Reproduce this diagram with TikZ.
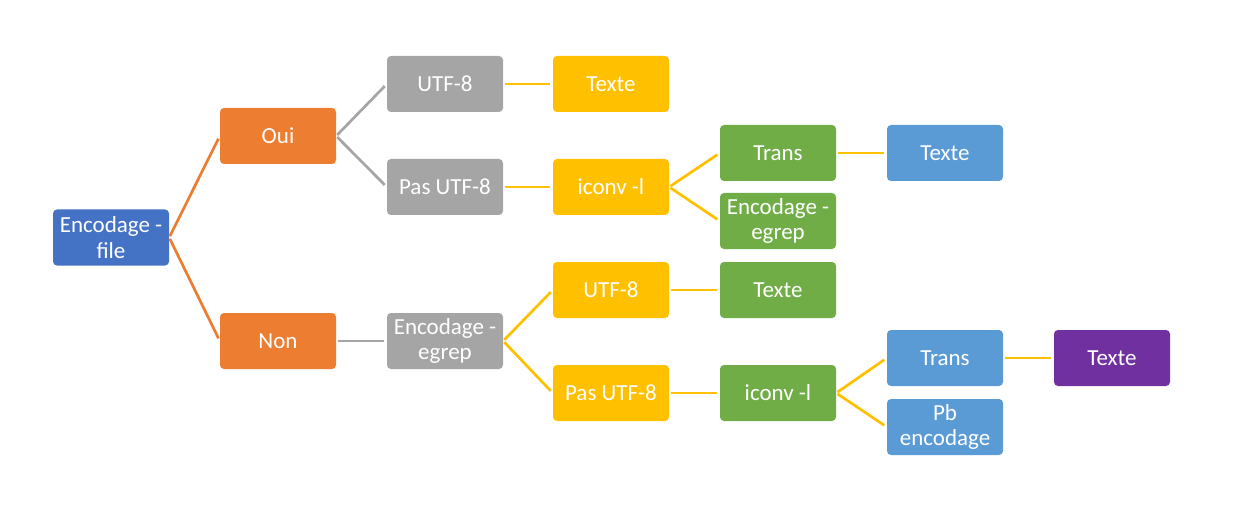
\documentclass[tikz,border=0pt]{standalone}
\usepackage{fontspec}
\setmainfont{Carlito}
\definecolor{cblue}{HTML}{4472C4}
\definecolor{corange}{HTML}{ED7D31}
\definecolor{cgray}{HTML}{A5A5A5}
\definecolor{cyellow}{HTML}{FFC000}
\definecolor{clblue}{HTML}{5B9BD5}
\definecolor{cgreen}{HTML}{70AD47}
\definecolor{cpurple}{HTML}{7030A0}
\begin{document}
\begin{tikzpicture}[x=1pt,y=-1pt,
  box/.style={rounded corners=4pt, minimum width=116pt, minimum height=56pt, inner sep=0pt,
    text=white, align=center, font=\fontsize{23}{25.5}\selectfont},
  conn/.style={line width=2.7pt, shorten >=3pt, shorten <=1.5pt}]
\useasboundingbox (0,0) rectangle (1258,505);
\node[box,fill=cblue] (root) at (111,237.5) {Encodage -\\file};
\node[box,fill=corange] (oui) at (278,136) {Oui};
\node[box,fill=corange] (non) at (278,341) {Non};
\node[box,fill=cgray] (utfa) at (445,84) {UTF-8};
\node[box,fill=cgray] (pasa) at (445,187) {Pas UTF-8};
\node[box,fill=cgray] (egrepa) at (445,341) {Encodage -\\egrep};
\node[box,fill=cyellow] (textea) at (611,84) {Texte};
\node[box,fill=cyellow] (iconva) at (611,187) {iconv -l};
\node[box,fill=cyellow] (utfb) at (611,290) {UTF-8};
\node[box,fill=cyellow] (pasb) at (611,393) {Pas UTF-8};
\node[box,fill=cgreen] (transa) at (778,153) {Trans};
\node[box,fill=cgreen] (egrepb) at (778,221) {Encodage -\\egrep};
\node[box,fill=cgreen] (texteb) at (778,290) {Texte};
\node[box,fill=cgreen] (iconvb) at (778,393) {iconv -l};
\node[box,fill=clblue] (textec) at (945,153) {Texte};
\node[box,fill=clblue] (transb) at (945,358) {Trans};
\node[box,fill=clblue] (pb) at (945,427) {Pb\\encodage};
\node[box,fill=cpurple] (texted) at (1112,358) {Texte};
\draw[conn,corange] (root.east) -- (oui.west);
\draw[conn,corange] (root.east) -- (non.west);
\draw[conn,cgray] (oui.east) -- (utfa.west);
\draw[conn,cgray] (oui.east) -- (pasa.west);
\draw[conn,cgray] (non.east) -- (egrepa.west);
\draw[conn,cyellow] (utfa.east) -- (textea.west);
\draw[conn,cyellow] (pasa.east) -- (iconva.west);
\draw[conn,cyellow] (egrepa.east) -- (utfb.west);
\draw[conn,cyellow] (egrepa.east) -- (pasb.west);
\draw[conn,cyellow] (iconva.east) -- (transa.west);
\draw[conn,cyellow] (iconva.east) -- (egrepb.west);
\draw[conn,cyellow] (utfb.east) -- (texteb.west);
\draw[conn,cyellow] (pasb.east) -- (iconvb.west);
\draw[conn,cyellow] (transa.east) -- (textec.west);
\draw[conn,cyellow] (iconvb.east) -- (transb.west);
\draw[conn,cyellow] (iconvb.east) -- (pb.west);
\draw[conn,cyellow] (transb.east) -- (texted.west);
\end{tikzpicture}
\end{document}
